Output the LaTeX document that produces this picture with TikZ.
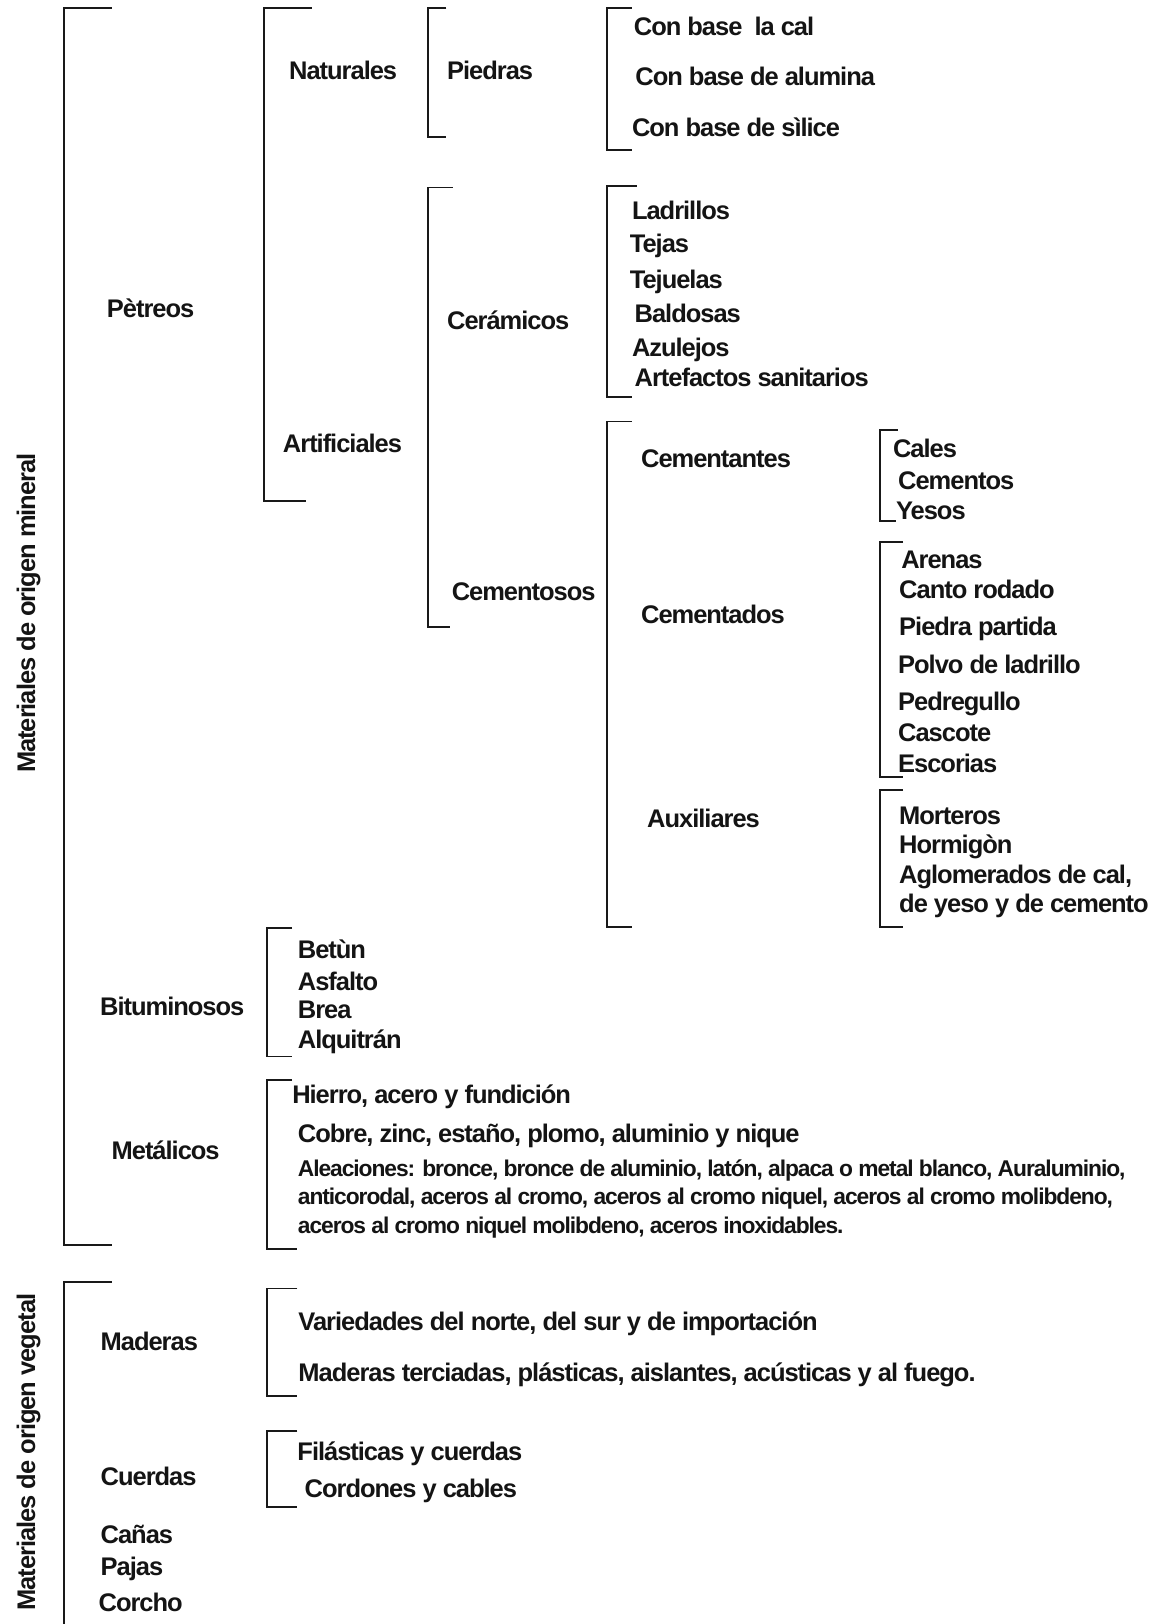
\documentclass[tikz,border=0pt]{standalone}
\usepackage{fontspec}
\setmainfont{Liberation Sans}
\newfontfamily\hvf{Liberation Sans Bold}[LetterSpace=-4]
\newfontfamily\hvs{Liberation Sans Bold}[LetterSpace=-4.6]
\newcommand{\bigfnt}{\hvf\fontsize{24.6}{28}\selectfont}
\newcommand{\smallfnt}{\hvs\fontsize{22}{26}\selectfont}
\newcommand{\brkt}[5]{\draw[brk] (#4,#2) -- (#1,#2) -- (#1,#3) -- (#5,#3);}
\begin{document}
\begin{tikzpicture}[x=1pt,y=-1pt,
  brk/.style={line width=1.8pt, line join=miter, draw=black!90},
  lbl/.style={anchor=west, inner sep=0pt, text height=17.6pt, text depth=0pt, font=\bigfnt, text=black!92},
  slbl/.style={anchor=west, inner sep=0pt, text height=15.8pt, text depth=0pt, font=\smallfnt, text=black!92},
  vlbl/.style={anchor=center, inner sep=0pt, text height=17.6pt, text depth=0pt, font=\bigfnt, rotate=90, text=black!92}]
\useasboundingbox (0,0) rectangle (1116,1568);
\fill[white] (0,0) rectangle (1116,1568);
% vertical labels
\node[vlbl] (mineral) at (25,592) {Materiales de origen mineral};
\node[vlbl] (vegetal) at (25,1402) {Materiales de origen vegetal};
% brackets
\brkt{62}{8}{1202}{108}{108}
\draw[brk] (108,1238) -- (62,1238) -- (62,1572);
\brkt{255}{8}{484}{301}{295}
\brkt{413}{8}{132}{431}{431}
\brkt{413}{181}{605}{437}{434}
\brkt{586}{8}{145}{610}{610}
\brkt{586}{180}{383}{615}{610}
\brkt{586}{407}{895}{610}{610}
\brkt{850}{415}{503}{867}{865}
\brkt{850}{523}{750}{872}{872}
\brkt{850}{763}{895}{872}{872}
\brkt{258}{896}{1020}{282}{282}
\brkt{258}{1043}{1206}{282}{287}
\brkt{258}{1244}{1348}{287}{287}
\brkt{258}{1382}{1455}{287}{287}
% level 1
\node[lbl] (petreos) at (103,297.7) {Pètreos};
\node[lbl] (bitum) at (96.5,972) {Bituminosos};
\node[lbl] (metal) at (107.6,1111) {Metálicos};
\node[lbl] (maderas) at (97,1295) {Maderas};
\node[lbl] (cuerdas) at (97,1425) {Cuerdas};
\node[lbl] (canas) at (97,1481) {Cañas};
\node[lbl] (pajas) at (97,1512) {Pajas};
\node[lbl] (corcho) at (95,1547) {Corcho};
% level 2
\node[lbl] (naturales) at (279,67.6) {Naturales};
\node[lbl] (artificiales) at (273,428) {Artificiales};
% level 3
\node[lbl] (piedras) at (431.5,67.6) {Piedras};
\node[lbl] (ceramicos) at (431.5,309.6) {Cerámicos};
\node[lbl] (cementosos) at (436,571) {Cementosos};
% level 4
\node[lbl] (cal) at (611.8,25.7) {Con base~ la cal};
\node[lbl] (alumina) at (613.3,73.4) {Con base de alumina};
\node[lbl] (silice) at (610,123.3) {Con base de sìlice};
\node[lbl] (ladrillos) at (610,202.8) {Ladrillos};
\node[lbl] (tejas) at (608,235) {Tejas};
\node[lbl] (tejuelas) at (608,269.7) {Tejuelas};
\node[lbl] (baldosas) at (612.6,303) {Baldosas};
\node[lbl] (azulejos) at (610,335.7) {Azulejos};
\node[lbl] (artefactos) at (612.6,364.7) {Artefactos sanitarios};
\node[lbl] (cementantes) at (618.8,442.5) {Cementantes};
\node[lbl] (cementados) at (618.8,593.4) {Cementados};
\node[lbl] (auxiliares) at (624.7,790.5) {Auxiliares};
% level 5
\node[lbl] (cales) at (862,433) {Cales};
\node[lbl] (cementos) at (867,463.5) {Cementos};
\node[lbl] (yesos) at (865,493) {Yesos};
\node[lbl] (arenas) at (870,540) {Arenas};
\node[lbl] (canto) at (868,569.3) {Canto rodado};
\node[lbl] (partida) at (868,605) {Piedra partida};
\node[lbl] (polvo) at (867,641.8) {Polvo de ladrillo};
\node[lbl] (pedregullo) at (867,677) {Pedregullo};
\node[lbl] (cascote) at (867,707) {Cascote};
\node[lbl] (escorias) at (867,737) {Escorias};
\node[lbl] (morteros) at (868,787) {Morteros};
\node[lbl] (hormigon) at (868,815.6) {Hormigòn};
\node[lbl] (aglom1) at (868,844) {Aglomerados de cal,};
\node[lbl] (aglom2) at (868,872.4) {de yeso y de cemento};
% bituminosos
\node[lbl] (betun) at (287.4,916.5) {Betùn};
\node[lbl] (asfalto) at (287.4,947.7) {Asfalto};
\node[lbl] (brea) at (287.4,975) {Brea};
\node[lbl] (alquitran) at (287.4,1004) {Alquitrán};
% metalicos
\node[lbl] (hierro) at (282,1057) {Hierro, acero y fundición};
\node[lbl] (cobre) at (287.4,1094) {Cobre, zinc, estaño, plomo, aluminio y nique};
\node[slbl] (aleac1) at (287.4,1128) {Aleaciones: bronce, bronce de aluminio, latón, alpaca o metal blanco, Auraluminio,};
\node[slbl] (aleac2) at (287.4,1155.3) {anticorodal, aceros al cromo, aceros al cromo niquel, aceros al cromo molibdeno,};
\node[slbl] (aleac3) at (287.4,1182.7) {aceros al cromo niquel molibdeno, aceros inoxidables.};
% maderas
\node[lbl] (variedades) at (288,1276) {Variedades del norte, del sur y de importación};
\node[lbl] (terciadas) at (288,1325) {Maderas terciadas, plásticas, aislantes, acústicas y al fuego.};
% cuerdas
\node[lbl] (filasticas) at (287,1401) {Filásticas y cuerdas};
\node[lbl] (cordones) at (294,1437) {Cordones y cables};
\end{tikzpicture}
\end{document}
